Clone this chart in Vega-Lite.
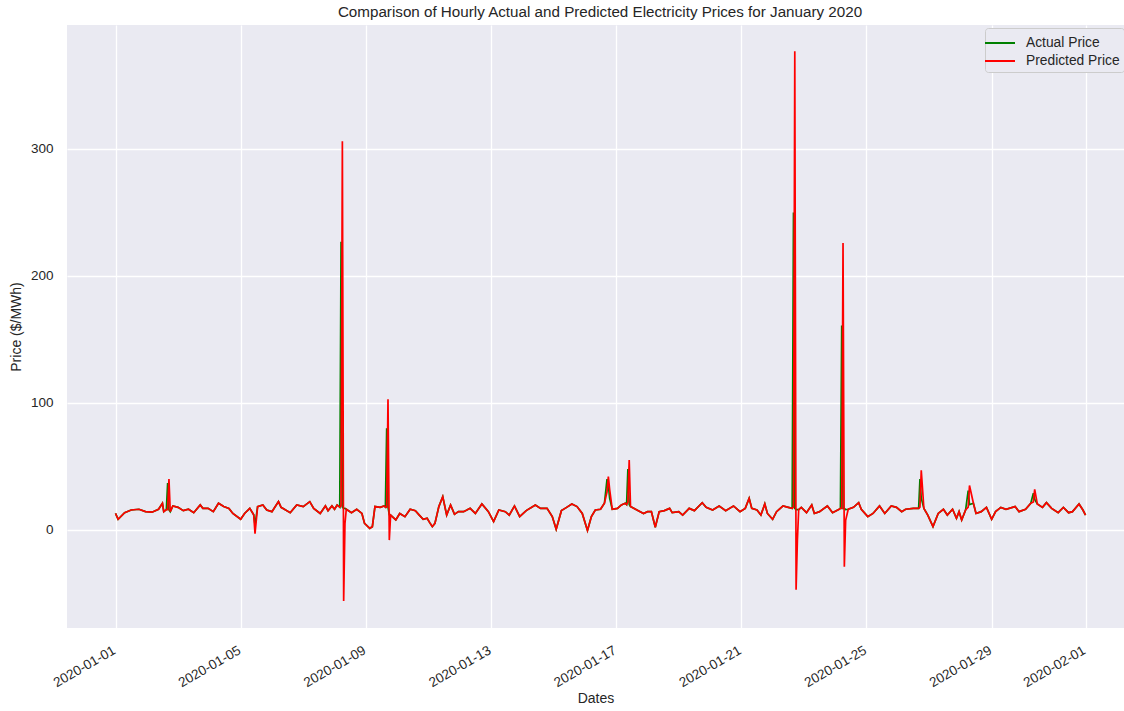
{
  "$schema": "https://vega.github.io/schema/vega-lite/v6.json",
  "width": 1057,
  "height": 603,
  "autosize": "none",
  "padding": {"left": 67, "top": 25, "right": 0, "bottom": 83},
  "background": "white",
  "title": {"text": "Comparison of Hourly Actual and Predicted Electricity Prices for January 2020", "fontSize": 15.2, "fontWeight": "normal", "font": "Liberation Sans", "color": "#262626", "offset": 5, "dx": 4.5},
  "config": {
    "view": {"fill": "#EAEAF2", "stroke": null},
    "axis": {"domain": false, "ticks": false, "gridColor": "#FFFFFF", "gridWidth": 1.3, "gridOpacity": 1, "labelFont": "Liberation Sans", "labelFontSize": 13.5, "labelColor": "#262626", "titleFont": "Liberation Sans", "titleFontSize": 14, "titleFontWeight": "normal", "titleColor": "#262626"}
  },
  "data": {"values": [
    {"t":"2020-01-01T00:00","Actual Price":13,"Predicted Price":13},
    {"t":"2020-01-01T02:00","Actual Price":8.4,"Predicted Price":8.4},
    {"t":"2020-01-01T07:00","Actual Price":13.6,"Predicted Price":13.6},
    {"t":"2020-01-01T12:00","Actual Price":15.7,"Predicted Price":15.7},
    {"t":"2020-01-01T18:00","Actual Price":16.3,"Predicted Price":16.3},
    {"t":"2020-01-01T23:00","Actual Price":14.4,"Predicted Price":14.4},
    {"t":"2020-01-02T04:00","Actual Price":14,"Predicted Price":14},
    {"t":"2020-01-02T09:00","Actual Price":16.3,"Predicted Price":16.3},
    {"t":"2020-01-02T12:00","Actual Price":21,"Predicted Price":21},
    {"t":"2020-01-02T13:00","Actual Price":14.4,"Predicted Price":14.4},
    {"t":"2020-01-02T15:00","Actual Price":16,"Predicted Price":16},
    {"t":"2020-01-02T16:00","Actual Price":37,"Predicted Price":16},
    {"t":"2020-01-02T17:00","Actual Price":16,"Predicted Price":40},
    {"t":"2020-01-02T18:00","Actual Price":14.4,"Predicted Price":14.4},
    {"t":"2020-01-02T20:00","Actual Price":18.9,"Predicted Price":18.9},
    {"t":"2020-01-03T00:00","Actual Price":17.8,"Predicted Price":17.8},
    {"t":"2020-01-03T04:00","Actual Price":15.2,"Predicted Price":15.2},
    {"t":"2020-01-03T08:00","Actual Price":16.3,"Predicted Price":16.3},
    {"t":"2020-01-03T12:00","Actual Price":13.6,"Predicted Price":13.6},
    {"t":"2020-01-03T17:00","Actual Price":19.7,"Predicted Price":19.7},
    {"t":"2020-01-03T19:00","Actual Price":17,"Predicted Price":17},
    {"t":"2020-01-03T23:00","Actual Price":17,"Predicted Price":17},
    {"t":"2020-01-04T03:00","Actual Price":14.4,"Predicted Price":14.4},
    {"t":"2020-01-04T07:00","Actual Price":21,"Predicted Price":21},
    {"t":"2020-01-04T11:00","Actual Price":18.4,"Predicted Price":18.4},
    {"t":"2020-01-04T15:00","Actual Price":17,"Predicted Price":17},
    {"t":"2020-01-04T18:00","Actual Price":13,"Predicted Price":13},
    {"t":"2020-01-05T00:00","Actual Price":8.4,"Predicted Price":8.4},
    {"t":"2020-01-05T03:00","Actual Price":13,"Predicted Price":13},
    {"t":"2020-01-05T07:00","Actual Price":17,"Predicted Price":17},
    {"t":"2020-01-05T10:00","Actual Price":12,"Predicted Price":12},
    {"t":"2020-01-05T11:00","Actual Price":4,"Predicted Price":-3},
    {"t":"2020-01-05T13:00","Actual Price":18.4,"Predicted Price":18.4},
    {"t":"2020-01-05T17:00","Actual Price":19.7,"Predicted Price":19.7},
    {"t":"2020-01-05T20:00","Actual Price":15.7,"Predicted Price":15.7},
    {"t":"2020-01-06T00:00","Actual Price":14.4,"Predicted Price":14.4},
    {"t":"2020-01-06T05:00","Actual Price":22.3,"Predicted Price":22.3},
    {"t":"2020-01-06T07:00","Actual Price":17.8,"Predicted Price":17.8},
    {"t":"2020-01-06T14:00","Actual Price":13.6,"Predicted Price":13.6},
    {"t":"2020-01-06T19:00","Actual Price":19.7,"Predicted Price":19.7},
    {"t":"2020-01-07T00:00","Actual Price":18.4,"Predicted Price":18.4},
    {"t":"2020-01-07T05:00","Actual Price":22.3,"Predicted Price":22.3},
    {"t":"2020-01-07T08:00","Actual Price":17,"Predicted Price":17},
    {"t":"2020-01-07T13:00","Actual Price":13,"Predicted Price":13},
    {"t":"2020-01-07T17:00","Actual Price":18.9,"Predicted Price":18.9},
    {"t":"2020-01-07T19:00","Actual Price":15.2,"Predicted Price":15.2},
    {"t":"2020-01-07T22:00","Actual Price":18.9,"Predicted Price":18.9},
    {"t":"2020-01-08T00:00","Actual Price":16.3,"Predicted Price":16.3},
    {"t":"2020-01-08T02:00","Actual Price":19.7,"Predicted Price":19.7},
    {"t":"2020-01-08T04:00","Actual Price":18,"Predicted Price":18},
    {"t":"2020-01-08T05:00","Actual Price":227,"Predicted Price":19},
    {"t":"2020-01-08T06:00","Actual Price":18,"Predicted Price":306},
    {"t":"2020-01-08T07:00","Actual Price":17,"Predicted Price":-56},
    {"t":"2020-01-08T08:00","Actual Price":17,"Predicted Price":5},
    {"t":"2020-01-08T09:00","Actual Price":16.3,"Predicted Price":16.3},
    {"t":"2020-01-08T13:00","Actual Price":13.6,"Predicted Price":13.6},
    {"t":"2020-01-08T17:00","Actual Price":16.3,"Predicted Price":16.3},
    {"t":"2020-01-08T21:00","Actual Price":13,"Predicted Price":13},
    {"t":"2020-01-08T23:00","Actual Price":5.2,"Predicted Price":5.2},
    {"t":"2020-01-09T03:00","Actual Price":1.3,"Predicted Price":1.3},
    {"t":"2020-01-09T05:00","Actual Price":2.6,"Predicted Price":2.6},
    {"t":"2020-01-09T07:00","Actual Price":18.4,"Predicted Price":18.4},
    {"t":"2020-01-09T11:00","Actual Price":17.8,"Predicted Price":17.8},
    {"t":"2020-01-09T14:00","Actual Price":18.9,"Predicted Price":18.9},
    {"t":"2020-01-09T15:00","Actual Price":18,"Predicted Price":18},
    {"t":"2020-01-09T16:00","Actual Price":80,"Predicted Price":18},
    {"t":"2020-01-09T17:00","Actual Price":18,"Predicted Price":103},
    {"t":"2020-01-09T18:00","Actual Price":12,"Predicted Price":-8},
    {"t":"2020-01-09T19:00","Actual Price":11.7,"Predicted Price":11.7},
    {"t":"2020-01-09T23:00","Actual Price":7.9,"Predicted Price":7.9},
    {"t":"2020-01-10T02:00","Actual Price":13,"Predicted Price":13},
    {"t":"2020-01-10T06:00","Actual Price":10.5,"Predicted Price":10.5},
    {"t":"2020-01-10T10:00","Actual Price":16.3,"Predicted Price":16.3},
    {"t":"2020-01-10T14:00","Actual Price":15.2,"Predicted Price":15.2},
    {"t":"2020-01-10T17:00","Actual Price":11.7,"Predicted Price":11.7},
    {"t":"2020-01-10T20:00","Actual Price":8.4,"Predicted Price":8.4},
    {"t":"2020-01-10T23:00","Actual Price":9.2,"Predicted Price":9.2},
    {"t":"2020-01-11T01:00","Actual Price":5.8,"Predicted Price":5.8},
    {"t":"2020-01-11T03:00","Actual Price":2.6,"Predicted Price":2.6},
    {"t":"2020-01-11T05:00","Actual Price":5.2,"Predicted Price":5.2},
    {"t":"2020-01-11T08:00","Actual Price":18.4,"Predicted Price":18.4},
    {"t":"2020-01-11T11:00","Actual Price":26.2,"Predicted Price":26.2},
    {"t":"2020-01-11T14:00","Actual Price":11.7,"Predicted Price":11.7},
    {"t":"2020-01-11T17:00","Actual Price":19.7,"Predicted Price":19.7},
    {"t":"2020-01-11T20:00","Actual Price":12.3,"Predicted Price":12.3},
    {"t":"2020-01-11T23:00","Actual Price":14.4,"Predicted Price":14.4},
    {"t":"2020-01-12T03:00","Actual Price":14.4,"Predicted Price":14.4},
    {"t":"2020-01-12T08:00","Actual Price":17,"Predicted Price":17},
    {"t":"2020-01-12T12:00","Actual Price":13,"Predicted Price":13},
    {"t":"2020-01-12T17:00","Actual Price":20.5,"Predicted Price":20.5},
    {"t":"2020-01-12T22:00","Actual Price":14.4,"Predicted Price":14.4},
    {"t":"2020-01-13T02:00","Actual Price":6.6,"Predicted Price":6.6},
    {"t":"2020-01-13T06:00","Actual Price":15.7,"Predicted Price":15.7},
    {"t":"2020-01-13T11:00","Actual Price":14.4,"Predicted Price":14.4},
    {"t":"2020-01-13T14:00","Actual Price":11.7,"Predicted Price":11.7},
    {"t":"2020-01-13T18:00","Actual Price":18.9,"Predicted Price":18.9},
    {"t":"2020-01-13T22:00","Actual Price":10.5,"Predicted Price":10.5},
    {"t":"2020-01-14T03:00","Actual Price":15.2,"Predicted Price":15.2},
    {"t":"2020-01-14T10:00","Actual Price":19.7,"Predicted Price":19.7},
    {"t":"2020-01-14T14:00","Actual Price":17,"Predicted Price":17},
    {"t":"2020-01-14T19:00","Actual Price":17,"Predicted Price":17},
    {"t":"2020-01-14T23:00","Actual Price":10.5,"Predicted Price":10.5},
    {"t":"2020-01-15T02:00","Actual Price":0.5,"Predicted Price":0.5},
    {"t":"2020-01-15T06:00","Actual Price":15.2,"Predicted Price":15.2},
    {"t":"2020-01-15T10:00","Actual Price":17.8,"Predicted Price":17.8},
    {"t":"2020-01-15T14:00","Actual Price":20.5,"Predicted Price":20.5},
    {"t":"2020-01-15T18:00","Actual Price":18.4,"Predicted Price":18.4},
    {"t":"2020-01-15T22:00","Actual Price":13,"Predicted Price":13},
    {"t":"2020-01-16T02:00","Actual Price":-0.5,"Predicted Price":-0.5},
    {"t":"2020-01-16T05:00","Actual Price":10.5,"Predicted Price":10.5},
    {"t":"2020-01-16T08:00","Actual Price":15.7,"Predicted Price":15.7},
    {"t":"2020-01-16T12:00","Actual Price":16.3,"Predicted Price":16.3},
    {"t":"2020-01-16T15:00","Actual Price":21,"Predicted Price":21},
    {"t":"2020-01-16T17:00","Actual Price":40,"Predicted Price":30},
    {"t":"2020-01-16T18:00","Actual Price":35,"Predicted Price":42},
    {"t":"2020-01-16T19:00","Actual Price":25,"Predicted Price":32},
    {"t":"2020-01-16T21:00","Actual Price":16.3,"Predicted Price":16.3},
    {"t":"2020-01-17T01:00","Actual Price":17,"Predicted Price":17},
    {"t":"2020-01-17T04:00","Actual Price":19.7,"Predicted Price":19.7},
    {"t":"2020-01-17T07:00","Actual Price":21,"Predicted Price":21},
    {"t":"2020-01-17T08:00","Actual Price":20,"Predicted Price":20},
    {"t":"2020-01-17T09:00","Actual Price":48,"Predicted Price":22},
    {"t":"2020-01-17T10:00","Actual Price":20,"Predicted Price":55},
    {"t":"2020-01-17T11:00","Actual Price":18.4,"Predicted Price":18.4},
    {"t":"2020-01-17T17:00","Actual Price":15.2,"Predicted Price":15.2},
    {"t":"2020-01-17T21:00","Actual Price":13,"Predicted Price":13},
    {"t":"2020-01-18T00:00","Actual Price":14.4,"Predicted Price":14.4},
    {"t":"2020-01-18T03:00","Actual Price":14.4,"Predicted Price":14.4},
    {"t":"2020-01-18T06:00","Actual Price":2.1,"Predicted Price":2.1},
    {"t":"2020-01-18T09:00","Actual Price":14.4,"Predicted Price":14.4},
    {"t":"2020-01-18T13:00","Actual Price":15.2,"Predicted Price":15.2},
    {"t":"2020-01-18T17:00","Actual Price":17,"Predicted Price":17},
    {"t":"2020-01-18T19:00","Actual Price":13.6,"Predicted Price":13.6},
    {"t":"2020-01-19T00:00","Actual Price":14.4,"Predicted Price":14.4},
    {"t":"2020-01-19T03:00","Actual Price":11.7,"Predicted Price":11.7},
    {"t":"2020-01-19T08:00","Actual Price":17,"Predicted Price":17},
    {"t":"2020-01-19T12:00","Actual Price":15.2,"Predicted Price":15.2},
    {"t":"2020-01-19T18:00","Actual Price":21.5,"Predicted Price":21.5},
    {"t":"2020-01-19T21:00","Actual Price":17.8,"Predicted Price":17.8},
    {"t":"2020-01-20T02:00","Actual Price":15.7,"Predicted Price":15.7},
    {"t":"2020-01-20T07:00","Actual Price":18.9,"Predicted Price":18.9},
    {"t":"2020-01-20T12:00","Actual Price":15.2,"Predicted Price":15.2},
    {"t":"2020-01-20T18:00","Actual Price":18.9,"Predicted Price":18.9},
    {"t":"2020-01-20T23:00","Actual Price":14.4,"Predicted Price":14.4},
    {"t":"2020-01-21T03:00","Actual Price":17,"Predicted Price":17},
    {"t":"2020-01-21T06:00","Actual Price":25,"Predicted Price":25},
    {"t":"2020-01-21T08:00","Actual Price":17,"Predicted Price":17},
    {"t":"2020-01-21T12:00","Actual Price":15.7,"Predicted Price":15.7},
    {"t":"2020-01-21T15:00","Actual Price":11.7,"Predicted Price":11.7},
    {"t":"2020-01-21T18:00","Actual Price":20.5,"Predicted Price":20.5},
    {"t":"2020-01-21T20:00","Actual Price":13,"Predicted Price":13},
    {"t":"2020-01-22T00:00","Actual Price":8.4,"Predicted Price":8.4},
    {"t":"2020-01-22T03:00","Actual Price":14.4,"Predicted Price":14.4},
    {"t":"2020-01-22T08:00","Actual Price":18.9,"Predicted Price":18.9},
    {"t":"2020-01-22T12:00","Actual Price":17.8,"Predicted Price":17.8},
    {"t":"2020-01-22T15:00","Actual Price":17,"Predicted Price":17},
    {"t":"2020-01-22T16:00","Actual Price":250,"Predicted Price":18},
    {"t":"2020-01-22T17:00","Actual Price":17,"Predicted Price":377},
    {"t":"2020-01-22T18:00","Actual Price":16,"Predicted Price":-47},
    {"t":"2020-01-22T19:00","Actual Price":16,"Predicted Price":-8},
    {"t":"2020-01-22T20:00","Actual Price":16,"Predicted Price":16},
    {"t":"2020-01-22T22:00","Actual Price":17.8,"Predicted Price":17.8},
    {"t":"2020-01-23T02:00","Actual Price":13.6,"Predicted Price":13.6},
    {"t":"2020-01-23T06:00","Actual Price":19.7,"Predicted Price":19.7},
    {"t":"2020-01-23T08:00","Actual Price":13,"Predicted Price":13},
    {"t":"2020-01-23T12:00","Actual Price":14.4,"Predicted Price":14.4},
    {"t":"2020-01-23T18:00","Actual Price":18.9,"Predicted Price":18.9},
    {"t":"2020-01-23T22:00","Actual Price":13.6,"Predicted Price":13.6},
    {"t":"2020-01-24T03:00","Actual Price":16.3,"Predicted Price":16.3},
    {"t":"2020-01-24T04:00","Actual Price":17,"Predicted Price":17},
    {"t":"2020-01-24T05:00","Actual Price":161,"Predicted Price":17},
    {"t":"2020-01-24T06:00","Actual Price":17,"Predicted Price":226},
    {"t":"2020-01-24T07:00","Actual Price":17,"Predicted Price":-29},
    {"t":"2020-01-24T08:00","Actual Price":16,"Predicted Price":7.5},
    {"t":"2020-01-24T10:00","Actual Price":16.3,"Predicted Price":16.3},
    {"t":"2020-01-24T14:00","Actual Price":17.8,"Predicted Price":17.8},
    {"t":"2020-01-24T18:00","Actual Price":21.5,"Predicted Price":21.5},
    {"t":"2020-01-24T20:00","Actual Price":16.3,"Predicted Price":16.3},
    {"t":"2020-01-25T01:00","Actual Price":10.5,"Predicted Price":10.5},
    {"t":"2020-01-25T05:00","Actual Price":13,"Predicted Price":13},
    {"t":"2020-01-25T10:00","Actual Price":18.9,"Predicted Price":18.9},
    {"t":"2020-01-25T14:00","Actual Price":13,"Predicted Price":13},
    {"t":"2020-01-25T19:00","Actual Price":18.9,"Predicted Price":18.9},
    {"t":"2020-01-25T23:00","Actual Price":17.8,"Predicted Price":17.8},
    {"t":"2020-01-26T03:00","Actual Price":14.4,"Predicted Price":14.4},
    {"t":"2020-01-26T06:00","Actual Price":16.3,"Predicted Price":16.3},
    {"t":"2020-01-26T12:00","Actual Price":17,"Predicted Price":17},
    {"t":"2020-01-26T15:00","Actual Price":17,"Predicted Price":17},
    {"t":"2020-01-26T16:00","Actual Price":17,"Predicted Price":17},
    {"t":"2020-01-26T17:00","Actual Price":40,"Predicted Price":18},
    {"t":"2020-01-26T18:00","Actual Price":25,"Predicted Price":47},
    {"t":"2020-01-26T20:00","Actual Price":17,"Predicted Price":17},
    {"t":"2020-01-26T23:00","Actual Price":11.7,"Predicted Price":11.7},
    {"t":"2020-01-27T03:00","Actual Price":2.6,"Predicted Price":2.6},
    {"t":"2020-01-27T07:00","Actual Price":13,"Predicted Price":13},
    {"t":"2020-01-27T11:00","Actual Price":16.3,"Predicted Price":16.3},
    {"t":"2020-01-27T14:00","Actual Price":11.7,"Predicted Price":11.7},
    {"t":"2020-01-27T18:00","Actual Price":16.3,"Predicted Price":16.3},
    {"t":"2020-01-27T21:00","Actual Price":9.2,"Predicted Price":9.2},
    {"t":"2020-01-27T23:00","Actual Price":14.4,"Predicted Price":14.4},
    {"t":"2020-01-28T01:00","Actual Price":7.8,"Predicted Price":7.8},
    {"t":"2020-01-28T04:00","Actual Price":15.7,"Predicted Price":15.7},
    {"t":"2020-01-28T06:00","Actual Price":31,"Predicted Price":18},
    {"t":"2020-01-28T07:00","Actual Price":20,"Predicted Price":35},
    {"t":"2020-01-28T10:00","Actual Price":21,"Predicted Price":21},
    {"t":"2020-01-28T12:00","Actual Price":13,"Predicted Price":13},
    {"t":"2020-01-28T16:00","Actual Price":14.4,"Predicted Price":14.4},
    {"t":"2020-01-28T20:00","Actual Price":17.8,"Predicted Price":17.8},
    {"t":"2020-01-29T00:00","Actual Price":8.4,"Predicted Price":8.4},
    {"t":"2020-01-29T03:00","Actual Price":14.4,"Predicted Price":14.4},
    {"t":"2020-01-29T07:00","Actual Price":17.8,"Predicted Price":17.8},
    {"t":"2020-01-29T11:00","Actual Price":16.3,"Predicted Price":16.3},
    {"t":"2020-01-29T18:00","Actual Price":18.4,"Predicted Price":18.4},
    {"t":"2020-01-29T21:00","Actual Price":14.4,"Predicted Price":14.4},
    {"t":"2020-01-30T02:00","Actual Price":16.3,"Predicted Price":16.3},
    {"t":"2020-01-30T06:00","Actual Price":21,"Predicted Price":21},
    {"t":"2020-01-30T08:00","Actual Price":29,"Predicted Price":22},
    {"t":"2020-01-30T09:00","Actual Price":24,"Predicted Price":32},
    {"t":"2020-01-30T11:00","Actual Price":20.5,"Predicted Price":20.5},
    {"t":"2020-01-30T15:00","Actual Price":17.8,"Predicted Price":17.8},
    {"t":"2020-01-30T18:00","Actual Price":21.5,"Predicted Price":21.5},
    {"t":"2020-01-30T22:00","Actual Price":17,"Predicted Price":17},
    {"t":"2020-01-31T03:00","Actual Price":13.6,"Predicted Price":13.6},
    {"t":"2020-01-31T07:00","Actual Price":17.8,"Predicted Price":17.8},
    {"t":"2020-01-31T11:00","Actual Price":13.6,"Predicted Price":13.6},
    {"t":"2020-01-31T14:00","Actual Price":14.4,"Predicted Price":14.4},
    {"t":"2020-01-31T19:00","Actual Price":20.5,"Predicted Price":20.5},
    {"t":"2020-01-31T22:00","Actual Price":15.7,"Predicted Price":15.7},
    {"t":"2020-02-01T00:00","Actual Price":11.7,"Predicted Price":11.7}
  ]},
  "transform": [{"fold": ["Actual Price", "Predicted Price"], "as": ["series", "price"]}],
  "mark": {"type": "line", "strokeWidth": 1.7, "clip": true},
  "encoding": {
    "x": {
      "field": "t", "type": "temporal",
      "scale": {"domain": [{"year": 2019, "month": 12, "date": 30, "hours": 10, "minutes": 48}, {"year": 2020, "month": 2, "date": 2, "hours": 5, "minutes": 30}]},
      "axis": {
        "title": "Dates",
        "values": [
          {"year": 2020, "month": 1, "date": 1},
          {"year": 2020, "month": 1, "date": 5},
          {"year": 2020, "month": 1, "date": 9},
          {"year": 2020, "month": 1, "date": 13},
          {"year": 2020, "month": 1, "date": 17},
          {"year": 2020, "month": 1, "date": 21},
          {"year": 2020, "month": 1, "date": 25},
          {"year": 2020, "month": 1, "date": 29},
          {"year": 2020, "month": 2, "date": 1}
        ],
        "format": "%Y-%m-%d",
        "labelAngle": -30,
        "labelAlign": "right",
        "labelBaseline": "top",
        "labelPadding": 15,
        "labelOffset": -5,
        "titlePadding": 2,
        "labelOverlap": false
      }
    },
    "y": {
      "field": "price", "type": "quantitative",
      "scale": {"domain": [-77.2, 397.6], "nice": false, "zero": false},
      "axis": {"title": "Price ($/MWh)", "values": [0, 100, 200, 300], "labelPadding": 14, "titlePadding": 7}
    },
    "color": {
      "field": "series", "type": "nominal",
      "scale": {"domain": ["Actual Price", "Predicted Price"], "range": ["#008000", "#FF0000"]},
      "legend": {
        "title": null,
        "orient": "none",
        "legendX": 918,
        "legendY": 3,
        "symbolType": "M-1.5,0H1.5",
        "symbolSize": 400,
        "symbolStrokeWidth": 2,
        "labelFont": "Liberation Sans",
        "labelFontSize": 13.8,
        "labelColor": "#262626",
        "labelOffset": 15,
        "padding": 4,
        "rowPadding": 0,
        "fillColor": "#EAEAF2",
        "strokeColor": "#CCCCCC",
        "cornerRadius": 3
      }
    }
  }
}
